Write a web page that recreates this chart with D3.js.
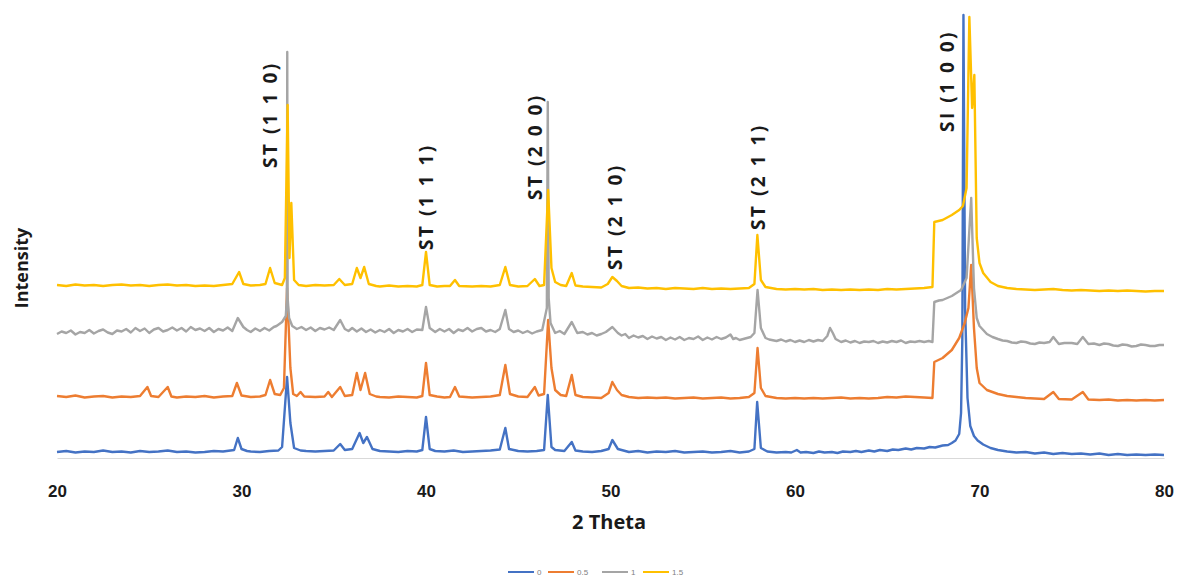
<!DOCTYPE html>
<html>
<head>
<meta charset="utf-8">
<script src="https://cdn.jsdelivr.net/npm/d3@7"></script>
<style>
  html, body { margin: 0; padding: 0; background: #fff; }
  svg { display: block; }
</style>
</head>
<body>
<svg id="chart" width="1180" height="578"></svg>
<script>
// ---------------- DATA ----------------
const xTicks = [20, 30, 40, 50, 60, 70, 80];
const seriesNames = ["0", "0.5", "1", "1.5"];
const seriesColors = ["#4472C4", "#ED7D31", "#A5A5A5", "#FFC000"];

// [2theta, intensity (a.u.)]
const series0 = [
 [20,60],[20.5,70],[21,55],[21.5,65],[22,60],[22.5,75],[23,60],[23.5,65],[24,55],[24.5,70],
 [25,60],[25.5,65],[26,75],[26.5,60],[27,65],[27.5,55],[28,60],[28.5,70],[29,65],[29.6,80],
 [29.8,200],[30.0,90],[30.3,70],[30.5,65],[31,60],[31.5,70],[32,75],[32.2,110],[32.47,810],[32.65,350],
 [32.85,100],[33.2,75],[33.5,70],[34,65],[34.5,70],[35,75],[35.35,140],[35.6,80],[36,90],[36.4,250],
 [36.6,150],[36.8,210],[37.1,90],[37.5,70],[38,65],[38.5,60],[39,70],[39.5,65],[39.8,80],[40.0,410],
 [40.2,90],[40.5,70],[41,65],[41.5,75],[42,60],[42.5,65],[43,70],[43.5,75],[44,85],[44.3,300],
 [44.5,90],[45,70],[45.5,65],[46,70],[46.4,80],[46.6,630],[46.8,110],[47,80],[47.5,70],[47.9,160],
 [48.1,75],[48.5,65],[49,60],[49.5,70],[49.9,90],[50.1,180],[50.4,90],[51,60],[51.5,70],[52,55],
 [52.5,65],[53,60],[53.5,70],[54,55],[54.5,60],[55,65],[55.5,55],[56,60],[56.5,70],[57,55],
 [57.5,65],[57.8,90],[57.95,560],[58.15,100],[58.5,65],[59,55],[59.5,60],[59.8,55],[60.1,80],[60.3,55],
 [60.6,60],[61,50],[61.3,65],[61.6,55],[62,60],[62.3,50],[62.6,65],[63,60],[63.3,70],[63.6,60],
 [64,75],[64.3,65],[64.6,80],[65,70],[65.3,85],[65.6,80],[66,95],[66.3,85],[66.6,100],[67,95],
 [67.3,110],[67.6,105],[68,125],[68.3,130],[68.5,150],[68.7,175],[68.9,240],[69.0,450],[69.07,1200],[69.13,4430],
 [69.22,1500],[69.35,600],[69.5,320],[69.7,220],[69.9,175],[70.2,135],[70.6,100],[71,80],[71.5,65],[72,55],
 [72.5,60],[73,45],[73.5,55],[74,40],[74.5,50],[75,40],[75.5,45],[76,35],[76.5,45],[77,30],
 [77.5,40],[78,30],[78.5,35],[79,30],[79.5,35],[80,30]
];

const series05 = [
 [20,620],[20.5,610],[21,625],[21.5,605],[22,615],[22.5,620],[23,605],[23.5,615],[24,610],[24.5,620],
 [24.9,710],[25.1,620],[25.5,610],[26.0,710],[26.2,615],[26.5,605],[27,615],[27.5,610],[28,620],[28.5,605],
 [29,615],[29.5,620],[29.75,750],[30.0,625],[30.5,610],[31,615],[31.3,630],[31.55,780],[31.8,640],[32.1,630],
 [32.3,700],[32.47,1700],[32.65,900],[32.8,640],[33.0,620],[33.2,660],[33.4,615],[34,610],[34.5,615],[34.7,660],
 [34.9,610],[35.35,710],[35.6,620],[36.0,630],[36.25,850],[36.45,680],[36.7,850],[36.95,640],[37.3,615],[37.5,610],
 [38,605],[38.5,615],[39,610],[39.5,605],[39.8,620],[40.0,950],[40.2,630],[40.6,615],[41,605],[41.3,610],
 [41.57,710],[41.8,615],[42.5,605],[43,610],[43.5,615],[44,630],[44.3,930],[44.55,640],[45,615],[45.5,610],
 [45.9,710],[46.1,625],[46.4,640],[46.62,1380],[46.8,900],[47.0,680],[47.3,630],[47.6,620],[47.9,830],[48.1,630],
 [48.5,610],[49,605],[49.5,600],[49.9,650],[50.1,760],[50.35,680],[50.6,630],[51,610],[51.5,600],[52,605],
 [52.5,600],[53,605],[53.5,595],[54,600],[54.5,605],[55,595],[55.5,600],[56,605],[56.5,595],[57,600],
 [57.5,610],[57.8,650],[57.97,1100],[58.15,700],[58.4,620],[59,600],[59.5,595],[60,600],[60.5,595],[61,600],
 [61.5,595],[62,600],[62.5,605],[63,595],[63.5,600],[64,595],[64.5,600],[65,610],[65.5,605],[66,615],
 [66.5,610],[67,605],[67.45,600],[67.55,960],[68,1000],[68.5,1080],[68.9,1200],[69.2,1350],[69.4,1500],[69.55,1930],
 [69.7,1300],[69.85,900],[70.0,750],[70.4,680],[71,640],[71.5,620],[72,610],[72.5,600],[73,595],[73.5,590],
 [74.0,660],[74.3,590],[75,585],[75.6,660],[75.9,585],[76.5,580],[77,585],[77.5,575],[78,580],[78.5,575],
 [79,580],[79.5,575],[80,580]
];

const series1 = [
 [20,1240],[20.25,1265],[20.5,1250],[20.75,1275],[21,1235],[21.25,1260],[21.5,1250],[21.75,1280],[22,1245],[22.25,1270],
 [22.5,1285],[22.75,1255],[23,1240],[23.25,1275],[23.5,1265],[23.75,1290],[24,1255],[24.25,1300],[24.5,1270],[24.75,1295],
 [25,1250],[25.25,1285],[25.5,1300],[25.75,1265],[26,1280],[26.25,1305],[26.5,1275],[26.75,1300],[27,1265],[27.25,1310],
 [27.5,1280],[27.75,1295],[28,1270],[28.25,1300],[28.5,1260],[28.75,1290],[29,1275],[29.25,1305],[29.5,1270],[29.8,1400],
 [30.1,1310],[30.3,1280],[30.5,1260],[30.75,1295],[31,1270],[31.25,1300],[31.5,1275],[31.75,1310],[31.9,1320],[32.2,1360],
 [32.4,1420],[32.46,1600],[32.48,4060],[32.5,1600],[32.58,1400],[32.75,1320],[33.0,1290],[33.25,1310],[33.5,1280],[33.75,1305],
 [34,1270],[34.25,1300],[34.5,1285],[34.75,1305],[35,1280],[35.35,1380],[35.6,1290],[35.8,1270],[36,1300],[36.25,1265],
 [36.5,1295],[36.75,1260],[37,1285],[37.25,1255],[37.5,1280],[37.75,1260],[38,1290],[38.25,1250],[38.5,1280],[38.75,1265],
 [39,1290],[39.25,1260],[39.5,1285],[39.8,1280],[40.0,1510],[40.2,1300],[40.5,1260],[40.75,1290],[41,1265],[41.25,1290],
 [41.5,1250],[41.75,1285],[42,1270],[42.25,1300],[42.5,1265],[42.75,1290],[43,1300],[43.25,1265],[43.5,1280],[43.75,1260],
 [44,1290],[44.3,1480],[44.5,1290],[44.75,1260],[45,1275],[45.25,1250],[45.5,1270],[45.75,1245],[46,1265],[46.3,1280],
 [46.55,1500],[46.6,3560],[46.65,1600],[46.75,1350],[47,1250],[47.25,1270],[47.5,1240],[47.9,1360],[48.2,1250],[48.5,1260],
 [48.75,1235],[49,1250],[49.25,1225],[49.5,1240],[49.75,1260],[50.1,1310],[50.4,1250],[50.6,1225],[50.8,1240],[51,1200],
 [51.25,1225],[51.5,1205],[51.75,1220],[52,1190],[52.25,1215],[52.5,1195],[52.75,1210],[53,1180],[53.25,1205],[53.5,1185],
 [53.75,1210],[54,1180],[54.25,1200],[54.5,1190],[54.75,1215],[55,1180],[55.25,1205],[55.5,1185],[55.75,1210],[56,1190],
 [56.25,1205],[56.5,1235],[56.65,1190],[56.8,1200],[57,1180],[57.3,1195],[57.6,1210],[57.8,1250],[57.97,1680],[58.15,1300],
 [58.4,1200],[58.6,1185],[59,1170],[59.25,1185],[59.5,1165],[59.75,1180],[60,1160],[60.25,1175],[60.5,1160],[60.75,1180],
 [61,1165],[61.25,1180],[61.5,1170],[61.75,1220],[61.9,1300],[62.05,1250],[62.2,1190],[62.5,1160],[62.75,1175],[63,1155],
 [63.25,1170],[63.5,1150],[63.75,1165],[64,1160],[64.25,1170],[64.5,1150],[64.75,1165],[65,1155],[65.25,1170],[65.5,1160],
 [65.75,1175],[66,1150],[66.25,1165],[66.5,1160],[66.75,1170],[67,1160],[67.25,1170],[67.45,1160],[67.55,1560],[67.8,1575],
 [68,1580],[68.25,1600],[68.5,1620],[68.75,1650],[69.0,1680],[69.3,1800],[69.55,2600],[69.7,1700],[69.85,1400],[70.0,1320],
 [70.2,1280],[70.4,1240],[70.7,1210],[71,1190],[71.25,1175],[71.5,1170],[71.75,1155],[72,1150],[72.25,1165],[72.5,1160],
 [72.75,1145],[73,1140],[73.25,1155],[73.5,1150],[73.8,1160],[74.0,1210],[74.3,1140],[74.6,1150],[75,1150],[75.3,1140],
 [75.6,1210],[75.9,1140],[76.2,1145],[76.5,1130],[76.75,1145],[77,1140],[77.25,1125],[77.5,1120],[77.75,1135],[78,1130],
 [78.25,1115],[78.5,1120],[78.75,1135],[79,1130],[79.25,1120],[79.5,1120],[79.75,1130],[80,1130]
];

const series15 = [
 [20,1730],[20.5,1720],[21,1735],[21.5,1725],[22,1730],[22.5,1720],[23,1730],[23.5,1735],[24,1725],[24.5,1730],
 [25,1720],[25.5,1730],[26,1735],[26.5,1725],[27,1730],[27.5,1720],[28,1725],[28.5,1720],[29,1730],[29.5,1740],
 [29.87,1860],[30.1,1740],[30.5,1725],[31,1730],[31.3,1740],[31.55,1900],[31.8,1750],[32.2,1730],[32.35,1800],[32.5,3530],
 [32.6,2000],[32.7,2550],[32.85,1780],[33.1,1730],[33.5,1720],[34,1730],[34.5,1725],[35,1730],[35.3,1790],[35.6,1730],
 [36.0,1740],[36.25,1900],[36.45,1800],[36.65,1910],[36.9,1740],[37.3,1720],[37.5,1715],[38,1725],[38.5,1715],[39,1720],
 [39.5,1715],[39.8,1730],[40.0,2060],[40.2,1730],[40.6,1715],[41,1720],[41.3,1720],[41.57,1780],[41.8,1720],[42.5,1715],
 [43,1720],[43.5,1715],[44,1730],[44.3,1910],[44.55,1730],[45,1715],[45.5,1720],[45.9,1790],[46.15,1720],[46.4,1730],
 [46.62,2680],[46.8,1900],[47.0,1760],[47.3,1730],[47.6,1720],[47.9,1850],[48.1,1725],[48.5,1715],[49,1710],[49.5,1705],
 [49.85,1740],[50.1,1810],[50.35,1770],[50.6,1720],[51,1700],[51.5,1705],[52,1695],[52.5,1700],[53,1690],[53.5,1700],
 [54,1695],[54.5,1690],[55,1700],[55.5,1690],[56,1695],[56.5,1690],[57,1695],[57.5,1700],[57.8,1740],[57.96,2230],
 [58.15,1780],[58.4,1710],[59,1690],[59.5,1685],[60,1690],[60.5,1685],[61,1690],[61.5,1680],[62,1685],[62.5,1680],
 [63,1685],[63.5,1680],[64,1685],[64.5,1680],[65,1690],[65.5,1685],[66,1690],[66.5,1695],[67,1700],[67.45,1710],
 [67.55,2360],[68,2380],[68.5,2430],[68.9,2480],[69.1,2520],[69.3,2700],[69.45,4410],[69.6,3500],[69.72,3830],[69.85,2200],
 [70.0,1950],[70.2,1850],[70.6,1760],[71,1720],[71.5,1700],[72,1690],[72.5,1685],[73,1680],[73.5,1685],[74,1690],
 [74.5,1680],[75,1675],[75.5,1680],[76,1675],[76.5,1670],[77,1675],[77.5,1670],[78,1675],[78.5,1670],[79,1665],
 [79.5,1670],[80,1670]
];

const allSeries = [series0, series05, series1, series15];

// peak annotations: [label, 2theta of label, intensity at label start]
const peakLabels = [
 ["ST (1 1 0)", 31.55, 2900],
 ["ST (1 1 1)", 40.0, 2080],
 ["ST (2 0 0)", 45.9, 2580],
 ["ST (2 1 0)", 50.24, 1880],
 ["ST (2 1 1)", 58.0, 2280],
 ["SI (1 0 0)", 68.24, 3260]
];

const xTitle = "2 Theta";
const yTitle = "Intensity";

// ---------------- CHART ----------------
const svg = d3.select("#chart");
const x = d3.scaleLinear().domain([20, 80]).range([57, 1164]);
const y = d3.scaleLinear().domain([0, 4500]).range([458, 8]);

// x axis
const xAxis = d3.axisBottom(x).tickValues(xTicks).tickSize(0).tickPadding(27).tickFormat(d3.format("d"));
const gx = svg.append("g").attr("transform", `translate(0,${y(0)})`).call(xAxis);
gx.select(".domain").attr("stroke", "#d9d9d9").attr("stroke-width", 1);
gx.selectAll("text")
  .attr("font-family", "'Liberation Sans Narrow', 'Liberation Sans', Arial, sans-serif")
  .attr("font-weight", "bold")
  .attr("font-size", 17)
  .attr("fill", "#1a1a1a");

// lines
const line = d3.line().x(d => x(d[0])).y(d => y(d[1])).curve(d3.curveLinear);
svg.append("g").selectAll("path")
  .data(allSeries)
  .join("path")
  .attr("d", line)
  .attr("fill", "none")
  .attr("stroke", (d, i) => seriesColors[i])
  .attr("stroke-width", 2.4)
  .attr("stroke-linejoin", "round");

// peak labels
svg.append("g").selectAll("text")
  .data(peakLabels)
  .join("text")
  .attr("transform", d => `translate(${x(d[1])},${y(d[2])}) rotate(-90)`)
  .attr("text-anchor", "start")
  .attr("dominant-baseline", "central")
  .attr("font-family", "'Open Sans', 'Liberation Sans', sans-serif")
  .attr("font-weight", "bold")
  .attr("font-size", 19)
  .attr("letter-spacing", 2.5)
  .attr("fill", "#1a1a1a")
  .text(d => d[0]);

// axis titles
svg.append("text")
  .attr("x", 609).attr("y", 529)
  .attr("text-anchor", "middle")
  .attr("font-family", "'Open Sans', 'Liberation Sans', sans-serif")
  .attr("font-weight", "bold")
  .attr("font-size", 20)
  .attr("fill", "#1a1a1a")
  .text(xTitle);

svg.append("text")
  .attr("transform", "translate(21,268) rotate(-90)")
  .attr("text-anchor", "middle")
  .attr("dominant-baseline", "central")
  .attr("font-family", "'Open Sans', 'Liberation Sans', sans-serif")
  .attr("font-weight", "bold")
  .attr("font-size", 18)
  .attr("fill", "#1a1a1a")
  .text(yTitle);

// legend
const legendX = [508, 548, 602, 643];
const lg = svg.append("g").selectAll("g")
  .data(seriesNames)
  .join("g")
  .attr("transform", (d, i) => `translate(${legendX[i]},572)`);
lg.append("line").attr("x1", 0).attr("x2", 26).attr("y1", 0).attr("y2", 0)
  .attr("stroke", (d, i) => seriesColors[i]).attr("stroke-width", 2);
lg.append("text").attr("x", 29).attr("y", 0)
  .attr("dominant-baseline", "central")
  .attr("font-family", "'Liberation Sans', sans-serif")
  .attr("font-size", 8)
  .attr("fill", "#7f7f7f")
  .text(d => d);
</script>
</body>
</html>
